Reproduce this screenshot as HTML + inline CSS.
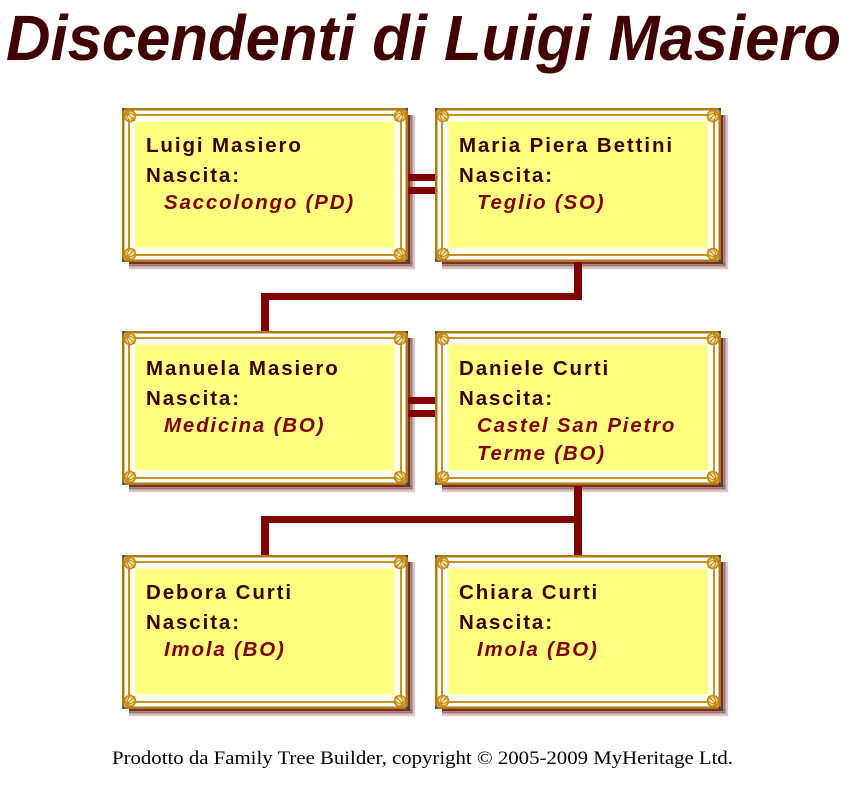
<!DOCTYPE html>
<html>
<head>
<meta charset="utf-8">
<style>
  html,body{margin:0;padding:0;background:#fff;}
  body{width:858px;height:799px;overflow:hidden;}
  svg{display:block;}
  .nm{font-family:"Liberation Sans",Arial,sans-serif;font-weight:bold;font-size:20.5px;fill:#3c0000;letter-spacing:1.9px;}
  .pl{font-family:"Liberation Sans",Arial,sans-serif;font-weight:bold;font-style:italic;font-size:20.5px;fill:#800000;letter-spacing:1.8px;}
</style>
</head>
<body>
<svg width="858" height="799" viewBox="0 0 858 799" xmlns="http://www.w3.org/2000/svg">
  <defs>
    <g id="orn">
      <circle cx="8" cy="8" r="5.5" fill="#f2cf6a" stroke="#c88a1c" stroke-width="1.6"/>
      <circle cx="8" cy="8" r="2.4" fill="#fff8d8"/>
      <path d="M3 3 L13 13 M8 2.5 C5 6 5 10 8 13.5 M2.5 8 C6 5 10 5 13.5 8" stroke="#b8801a" stroke-width="1" fill="none"/>
      <rect x="0" y="0" width="2.5" height="2.5" fill="#2f5a4a"/>
    </g>
    <g id="box">
      <!-- shadow -->
      <rect x="7" y="154" width="286" height="2.2" fill="#74302e"/>
      <rect x="7" y="156.2" width="286" height="2.4" fill="#a57573"/>
      <rect x="7" y="158.6" width="286" height="2.6" fill="#d9c6c6"/>
      <rect x="286" y="7" width="2.2" height="149" fill="#74302e"/>
      <rect x="288.2" y="7" width="2.4" height="151.6" fill="#a57573"/>
      <rect x="290.6" y="7" width="2.6" height="154.2" fill="#d9c6c6"/>
      <!-- frame -->
      <rect x="0" y="0" width="286" height="154" fill="#b07a12"/>
      <rect x="2.5" y="2.5" width="281" height="149" fill="#ffffff"/>
      <rect x="6" y="6" width="274" height="142" fill="#c8921e"/>
      <rect x="8" y="8" width="270" height="138" fill="#fffef2"/>
      <rect x="13.5" y="13.5" width="259" height="126" fill="#ffff80"/>
      <use href="#orn" x="0" y="0"/>
      <use href="#orn" transform="translate(286,0) scale(-1,1)"/>
      <use href="#orn" transform="translate(0,154) scale(1,-1)"/>
      <use href="#orn" transform="translate(286,154) scale(-1,-1)"/>
    </g>
  </defs>

  <text x="6" y="60" font-family="'Liberation Sans',Arial,sans-serif" font-weight="bold" font-style="italic" font-size="64" fill="#400000" textLength="835" lengthAdjust="spacingAndGlyphs">Discendenti di Luigi Masiero</text>

  <use href="#box" x="122" y="108"/>
  <use href="#box" x="435" y="108"/>
  <use href="#box" x="122" y="331"/>
  <use href="#box" x="435" y="331"/>
  <use href="#box" x="122" y="555"/>
  <use href="#box" x="435" y="555"/>

  <!-- connectors -->
  <g fill="#800000">
    <rect x="408" y="174" width="27" height="7"/>
    <rect x="408" y="187" width="27" height="7"/>
    <rect x="408" y="397" width="27" height="7"/>
    <rect x="408" y="410" width="27" height="7"/>

    <rect x="574" y="262" width="8" height="38"/>
    <rect x="261" y="293" width="321" height="7"/>
    <rect x="261" y="293" width="8" height="38"/>

    <rect x="574" y="486" width="8" height="69"/>
    <rect x="261" y="516" width="321" height="7"/>
    <rect x="261" y="516" width="8" height="39"/>
  </g>

  <!-- Box texts -->
  <text class="nm" x="146" y="152">Luigi Masiero</text>
  <text class="nm" x="146" y="182">Nascita:</text>
  <text class="pl" x="164" y="209">Saccolongo (PD)</text>

  <text class="nm" x="459" y="152">Maria Piera Bettini</text>
  <text class="nm" x="459" y="182">Nascita:</text>
  <text class="pl" x="477" y="209">Teglio (SO)</text>

  <text class="nm" x="146" y="375">Manuela Masiero</text>
  <text class="nm" x="146" y="405">Nascita:</text>
  <text class="pl" x="164" y="432">Medicina (BO)</text>

  <text class="nm" x="459" y="375">Daniele Curti</text>
  <text class="nm" x="459" y="405">Nascita:</text>
  <text class="pl" x="477" y="432">Castel San Pietro</text>
  <text class="pl" x="477" y="460">Terme (BO)</text>

  <text class="nm" x="146" y="599">Debora Curti</text>
  <text class="nm" x="146" y="629">Nascita:</text>
  <text class="pl" x="164" y="656">Imola (BO)</text>

  <text class="nm" x="459" y="599">Chiara Curti</text>
  <text class="nm" x="459" y="629">Nascita:</text>
  <text class="pl" x="477" y="656">Imola (BO)</text>

  <text x="112" y="764" font-family="'Liberation Serif','Times New Roman',serif" font-size="19" fill="#000" textLength="621" lengthAdjust="spacingAndGlyphs">Prodotto da Family Tree Builder, copyright © 2005-2009 MyHeritage Ltd.</text>
</svg>
</body>
</html>
